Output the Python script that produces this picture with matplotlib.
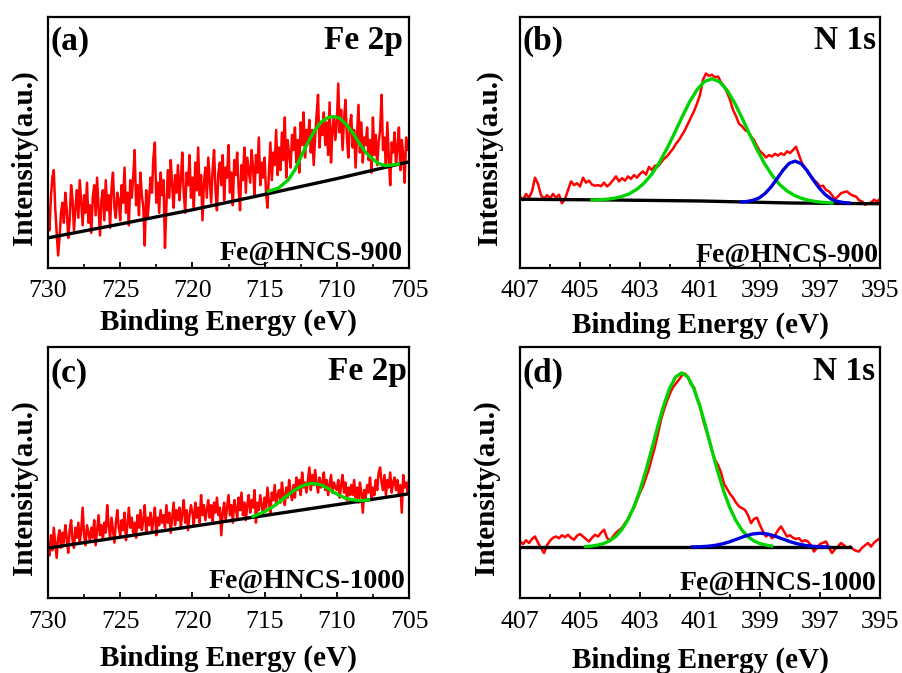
import numpy as np
import matplotlib
matplotlib.use("Agg")
import matplotlib.pyplot as plt
from matplotlib.ticker import MultipleLocator

plt.rcParams['font.family'] = ['Liberation Serif', 'DejaVu Serif']

# ---------------- Panel (a): Fe 2p, Fe@HNCS-900 ----------------
fe900_raw = [
    20, 15, 28, 36, 39, 24, 14, 5, 12, 22,
    26, 18, 30, 23, 12, 19, 33, 27, 15, 24,
    31, 20, 35, 26, 17, 29, 22, 34, 18, 25,
    14, 28, 33, 21, 36, 24, 13, 27, 31, 19,
    35, 23, 29, 16, 32, 38, 24, 20, 30, 27,
    19, 33, 26, 40, 22, 30, 17, 35, 28, 36,
    47, 25, 33, 21, 38, 29, 24, 9, 31, 20,
    27, 36, 30, 44, 50, 26, 34, 22, 38, 29,
    35, 8, 25, 39, 28, 43, 33, 24, 37, 30,
    41, 27, 35, 46, 30, 22, 38, 33, 45, 28,
    36, 24, 42, 31, 48, 29, 37, 19, 34, 40,
    28, 44, 35, 26, 39, 47, 31, 23, 38, 42,
    33, 45, 27, 40, 36, 49, 30, 38, 25, 43,
    37, 46, 32, 23, 41, 35, 48, 30, 44, 39,
    34, 47, 40, 29, 45, 38, 52, 33, 42, 36,
    44, 30, 24, 38, 50, 35, 46, 41, 55, 37,
    48, 39, 54, 43, 60, 36, 51, 45, 40, 53,
    47, 56, 42, 51, 38, 58, 49, 62, 44, 55,
    50, 59, 46, 55, 41, 52, 61, 69, 48, 57,
    53, 62, 49, 58, 45, 66, 42, 55, 60, 51,
    58, 73.5, 54, 63, 47, 59, 67, 52, 44, 57,
    61, 48, 55, 40, 53, 65, 46, 58, 42, 52,
    49, 56, 43, 51, 38, 60, 45, 53, 41, 50,
    55, 69, 47, 52, 40, 58, 44, 33, 50, 46,
    54, 41, 48, 56, 39, 51, 45, 34, 52, 47,
    50,
]
fe900_bg_x = [730, 725, 720, 715, 710, 705]
fe900_bg_y = [12.0, 17.5, 23.2, 29.3, 35.6, 42.3]
fe900_fit_x = [714.74, 714.05, 713.36, 712.90, 712.43, 711.97, 711.51, 711.05, 710.59, 710.17,
               709.78, 709.32, 708.86, 708.51, 708.05, 707.58, 707.13, 706.66, 706.20, 705.74]
fe900_fit_y = [30.6, 31.8, 35.1, 39.1, 45.0, 50.3, 55.0, 58.3, 60.0, 60.3,
               59.6, 57.0, 53.6, 50.3, 46.4, 43.7, 41.7, 40.8, 41.0, 41.4]

# ---------------- Panel (b): N 1s, Fe@HNCS-900 ----------------
n900_raw = [
    28.5, 27.0, 29.5, 28.0, 30.5, 36.0, 33.5, 29.0, 27.5, 29.0,
    27.8, 29.5, 28.0, 29.2, 25.8, 27.5, 31.0, 34.5, 33.0, 33.8,
    32.5, 36.0, 34.0, 34.8, 33.2, 32.8, 33.0, 32.6, 34.0, 32.5,
    33.5, 35.0, 36.5, 34.5, 35.8, 34.8, 36.5, 35.5, 37.0, 36.0,
    37.5, 38.5, 37.2, 40.3, 39.0, 40.8, 40.5, 42.0, 43.5, 44.5,
    46.0, 47.5, 49.5, 51.0, 53.0, 55.0, 57.5, 60.0, 62.5, 65.5,
    69.0, 75.0, 77.5, 76.5, 77.0, 76.0, 76.3, 74.0, 72.5, 70.0,
    67.0, 63.0, 60.5, 57.5, 56.5, 55.0, 54.3, 52.5, 51.0, 48.5,
    46.5, 45.5, 44.0, 45.0, 44.4, 45.5, 44.8, 45.7, 45.0, 46.5,
    45.8, 47.0, 48.3, 45.0, 41.7, 40.0, 38.0, 36.5, 35.1, 34.0,
    32.5, 32.8, 31.1, 30.5, 29.0, 27.5, 28.5, 29.8, 30.2, 30.5,
    29.5, 28.8, 28.5, 27.0, 26.5, 25.2, 25.8, 26.0, 27.2, 26.5,
    27.5,
]
n900_bg_x = [407, 404, 401, 398, 395]
n900_bg_y = [27.4, 27.1, 26.7, 25.9, 25.6]
n900_p1_x = [404.60, 404.35, 404.10, 403.85, 403.60, 403.35, 403.10, 402.85, 402.60, 402.35,
             402.10, 401.85, 401.60, 401.35, 401.10, 400.85, 400.60, 400.35, 400.10, 399.85,
             399.60, 399.35, 399.10, 398.85, 398.60, 398.35, 398.10, 397.85, 397.60, 397.35,
             397.10, 396.85, 396.60]
n900_p1_y = [27.1, 27.2, 27.4, 27.8, 28.5, 29.6, 31.4, 34.0, 37.5, 42.1,
             47.6, 53.7, 60.1, 66.1, 71.0, 74.3, 75.4, 74.2, 70.9, 65.9,
             59.8, 53.4, 47.2, 41.6, 37.0, 33.3, 30.7, 28.9, 27.7, 26.9,
             26.4, 26.1, 25.9]
n900_p2_x = [399.63, 399.43, 399.23, 399.03, 398.83, 398.63, 398.43, 398.23, 398.03, 397.83,
             397.63, 397.43, 397.23, 397.03, 396.83, 396.63, 396.43, 396.23, 396.03]
n900_p2_y = [26.3, 26.5, 27.0, 27.9, 29.7, 32.3, 35.6, 39.0, 41.7, 42.6,
             41.6, 38.8, 35.2, 31.9, 29.3, 27.5, 26.6, 26.1, 25.9]

# ---------------- Panel (c): Fe 2p, Fe@HNCS-1000 ----------------
fe1000_raw = [
    21, 17, 25, 19, 28, 22, 16, 24, 27, 20,
    26, 22, 29, 24, 18, 27, 31, 23, 20, 28,
    24, 30, 22, 27, 36, 25, 21, 29, 26, 23,
    28, 24, 31, 21, 27, 33, 25, 29, 23, 30,
    26, 37, 29, 24, 32, 27, 22, 30, 35, 28,
    25, 31, 27, 34, 23, 29, 36, 28, 32, 26,
    30, 24, 33, 28, 35, 27, 31, 37, 26, 32,
    29, 34, 27, 31, 36, 25, 32, 29, 35, 30,
    33, 28, 37, 30, 34, 26, 32, 38, 29, 35,
    31, 36, 28, 34, 39, 30, 35, 27, 33, 37,
    34, 29, 38, 32, 36, 30, 41, 33, 37, 31,
    35, 39, 32, 37, 30, 38, 34, 40, 33, 36,
    25, 34, 38, 31, 36, 41, 33, 37, 30, 39,
    36, 32, 40, 35, 42, 33, 38, 31, 37, 41,
    34, 39, 36, 43, 30, 38, 35, 41, 37, 33,
    40, 36, 44, 38, 34, 42, 39, 45, 37, 41,
    43, 38, 46, 41, 37, 44, 40, 47, 42, 39,
    45, 40, 48, 43, 47, 41, 50, 44, 46, 42,
    47, 52, 43, 49, 45, 51, 46, 42, 48, 44,
    46, 50, 43, 47, 41, 45, 49, 42, 46, 44,
    43, 47, 40, 45, 49, 42, 46, 39, 44, 41,
    45, 41, 47, 40, 44, 38, 46, 42, 34, 43,
    40, 45, 42, 48, 39, 44, 41, 47, 43, 50,
    52, 46, 43, 49, 41, 47, 44, 50, 42, 46,
    48, 43, 47, 41, 45, 34, 49, 44, 46, 42,
    47,
]
fe1000_bg_x = [730, 705]
fe1000_bg_y = [19.9, 41.5]
fe1000_fit_x = [715.8, 715.4, 715.0, 714.6, 714.2, 713.8, 713.4, 713.0, 712.6, 712.2, 711.8,
                711.4, 711.0, 710.6, 710.2, 709.8, 709.4, 709.0, 708.6, 708.2, 707.8]
fe1000_fit_y = [32.5, 33.4, 34.4, 35.7, 37.3, 39.1, 41.0, 42.7, 44.1, 45.1, 45.6,
                45.5, 44.8, 43.6, 42.1, 40.8, 39.8, 39.2, 38.9, 38.8, 39.1]

# ---------------- Panel (d): N 1s, Fe@HNCS-1000 ----------------
n1000_raw = [
    22.5, 21.5, 23.0, 21.9, 23.5, 24.5, 22.0, 20.0, 17.9, 21.0,
    22.8, 24.0, 24.5, 23.8, 25.0, 24.2, 25.2, 24.0, 23.2, 24.8,
    25.5, 24.5, 23.5, 22.5, 24.0, 25.2, 24.5, 26.0, 27.2, 24.0,
    22.8, 24.5, 26.0, 27.0, 28.0, 29.8, 31.5, 34.0, 36.0, 39.0,
    42.0, 44.5, 48.0, 51.5, 56.0, 60.3, 65.5, 71.0, 75.0, 78.5,
    81.5, 84.0, 85.5, 87.0, 88.7, 89.4, 88.0, 85.0, 84.0, 79.5,
    76.5, 71.0, 67.0, 63.0, 58.5, 55.0, 53.0, 50.0, 45.5, 43.5,
    41.5, 40.0, 38.0, 36.5, 35.8, 35.1, 33.0, 29.8, 31.5, 32.0,
    29.0, 26.5, 24.5, 25.5, 23.8, 25.0, 27.0, 28.5, 26.5, 24.5,
    25.0, 24.0, 23.5, 23.8, 22.5, 23.0, 22.5, 21.0, 18.5, 20.0,
    21.5, 22.0, 22.5, 20.0, 17.9, 19.5, 20.5, 21.9, 21.0, 20.0,
    20.5, 19.5, 18.8, 18.5, 20.0, 21.0, 21.9, 20.5, 22.0, 23.0,
    23.8,
]
n1000_bg_x = [407, 396]
n1000_bg_y = [20.3, 20.3]
n1000_p1_x = [404.81, 404.61, 404.41, 404.21, 404.01, 403.81, 403.61, 403.41, 403.21, 403.01,
              402.81, 402.61, 402.41, 402.21, 402.01, 401.81, 401.61, 401.41, 401.21, 401.01,
              400.81, 400.61, 400.41, 400.21, 400.01, 399.81, 399.61, 399.41, 399.21, 399.01,
              398.81, 398.61]
n1000_p1_y = [20.5, 20.7, 21.1, 21.7, 22.8, 24.5, 27.2, 31.0, 36.1, 42.6,
              50.5, 59.2, 68.3, 76.7, 83.6, 88.1, 89.7, 88.1, 83.6, 76.7,
              68.3, 59.2, 50.5, 42.6, 36.1, 31.0, 27.2, 24.5, 22.8, 21.7,
              21.1, 20.7]
n1000_p2_x = [401.25, 401.00, 400.75, 400.50, 400.25, 400.00, 399.75, 399.50, 399.25, 399.00,
              398.75, 398.50, 398.25, 398.00, 397.75, 397.50, 397.25, 397.00, 396.75]
n1000_p2_y = [20.35, 20.43, 20.61, 20.97, 21.57, 22.45, 23.55, 24.65, 25.5, 25.8,
              25.5, 24.65, 23.55, 22.45, 21.57, 20.97, 20.61, 20.43, 20.35]

fe_ticks = [730, 725, 720, 715, 710, 705]
n_ticks = [407, 405, 403, 401, 399, 397, 395]

panels = [
    dict(pos=[48/903, 1-268/673, 361/903, 251/673], xlim=(730, 705), ticks=fe_ticks, minor=2.5,
         raw=fe900_raw, bg=(fe900_bg_x, fe900_bg_y), fits=[(fe900_fit_x, fe900_fit_y, '#00d400')],
         tag='(a)', elem='Fe 2p', sample='Fe@HNCS-900',
         ylab_x=-0.028, xlab_y=-0.163, tag_y=0.869, elem_x=0.983, elem_y=0.871, samp_x=0.983, samp_y=0.032),
    dict(pos=[520/903, 1-268/673, 360/903, 251/673], xlim=(407, 395), ticks=n_ticks, minor=1,
         raw=n900_raw, bg=(n900_bg_x, n900_bg_y),
         fits=[(n900_p1_x, n900_p1_y, '#00d400'), (n900_p2_x, n900_p2_y, '#0000dd')],
         tag='(b)', elem='N 1s', sample='Fe@HNCS-900',
         ylab_x=-0.047, xlab_y=-0.175, tag_y=0.869, elem_x=0.99, elem_y=0.871, samp_x=0.995, samp_y=0.025),
    dict(pos=[48/903, 1-598/673, 361/903, 251/673], xlim=(730, 705), ticks=fe_ticks, minor=2.5,
         raw=fe1000_raw, bg=(fe1000_bg_x, fe1000_bg_y), fits=[(fe1000_fit_x, fe1000_fit_y, '#00d400')],
         tag='(c)', elem='Fe 2p', sample='Fe@HNCS-1000',
         ylab_x=-0.028, xlab_y=-0.187, tag_y=0.862, elem_x=0.994, elem_y=0.869, samp_x=0.989, samp_y=0.039),
    dict(pos=[520/903, 1-598/673, 360/903, 251/673], xlim=(407, 395), ticks=n_ticks, minor=1,
         raw=n1000_raw, bg=(n1000_bg_x, n1000_bg_y),
         fits=[(n1000_p1_x, n1000_p1_y, '#00d400'), (n1000_p2_x, n1000_p2_y, '#0000dd')],
         tag='(d)', elem='N 1s', sample='Fe@HNCS-1000',
         ylab_x=-0.055, xlab_y=-0.195, tag_y=0.862, elem_x=0.986, elem_y=0.869, samp_x=0.99, samp_y=0.032),
]

fig = plt.figure(figsize=(9.03, 6.73), dpi=100)

for p in panels:
    ax = fig.add_axes(p['pos'])
    x0, x1 = p['xlim']
    energies = np.linspace(x0, x1, len(p['raw']))
    ax.plot(energies, p['raw'], color='#ff0000', lw=1.8, zorder=2)
    ax.plot(p['bg'][0], p['bg'][1], color='black', lw=2.4, zorder=3)
    for fx, fy, c in p['fits']:
        ax.plot(fx, fy, color=c, lw=2.4, zorder=4)
    ax.set_xlim(x0, x1)
    ax.set_ylim(0, 100)
    ax.set_yticks([])
    ax.set_xticks(p['ticks'])
    ax.xaxis.set_minor_locator(MultipleLocator(p['minor']))
    ax.tick_params(axis='x', which='major', direction='in', length=4, width=1.3,
                   labelsize=18.5, pad=9)
    ax.tick_params(axis='x', which='minor', direction='in', length=3, width=1.2)
    for s in ax.spines.values():
        s.set_linewidth(1.6)
    ax.set_xlabel('Binding Energy (eV)', fontsize=21, fontweight='bold')
    ax.xaxis.set_label_coords(0.5, p['xlab_y'])
    ax.set_ylabel('Intensity(a.u.)', fontsize=21, fontweight='bold')
    ax.yaxis.set_label_coords(p['ylab_x'], 0.44)
    ax.text(0.008, p['tag_y'], p['tag'], transform=ax.transAxes, fontsize=24,
            fontweight='bold', ha='left', va='baseline')
    ax.text(p['elem_x'], p['elem_y'], p['elem'], transform=ax.transAxes, fontsize=24,
            fontweight='bold', ha='right', va='baseline')
    ax.text(p['samp_x'], p['samp_y'], p['sample'], transform=ax.transAxes, fontsize=20,
            fontweight='bold', ha='right', va='baseline')

fig.savefig('out.png', dpi=100)
